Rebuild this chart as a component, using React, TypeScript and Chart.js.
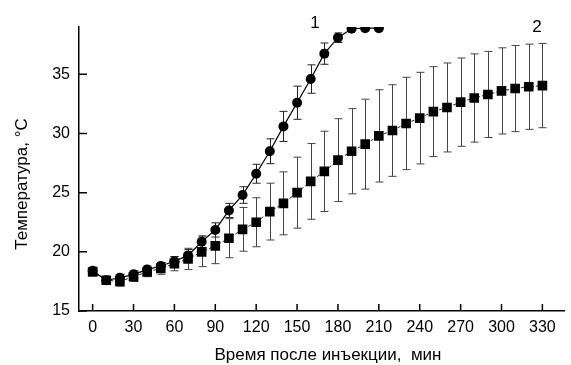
import React, { useEffect, useRef } from "react";
import { Chart, registerables } from "chart.js";

Chart.register(...registerables);

// Series 1 (circles)
const times1 = [0, 10, 20, 30, 40, 50, 60, 70, 80, 90, 100, 110, 120, 130, 140, 150, 160, 170, 180, 190, 200, 210];
const temps1 = [18.4, 17.6, 17.8, 18.1, 18.5, 18.8, 19.2, 19.7, 20.85, 21.85, 23.5, 24.8, 26.6, 28.5, 30.6, 32.6, 34.6, 36.75, 38.1, 38.85, 38.9, 38.9];
const errs1 = [0.3, 0.2, 0.3, 0.3, 0.3, 0.3, 0.4, 0.5, 0.5, 0.6, 0.6, 0.7, 0.8, 1.05, 1.27, 1.4, 1.2, 0.9, 0.4, 0, 0, 0];

// Series 2 (squares)
const times2 = [0, 10, 20, 30, 40, 50, 60, 70, 80, 90, 100, 110, 120, 130, 140, 150, 160, 170, 180, 190, 200, 210, 220, 230, 240, 250, 260, 270, 280, 290, 300, 310, 320, 330];
const temps2 = [18.3, 17.6, 17.5, 17.9, 18.3, 18.6, 19.0, 19.4, 20.0, 20.5, 21.15, 21.9, 22.5, 23.4, 24.1, 25.0, 25.95, 26.8, 27.75, 28.5, 29.1, 29.8, 30.25, 30.85, 31.3, 31.85, 32.2, 32.65, 33.0, 33.3, 33.6, 33.8, 33.95, 34.05];
const errs2 = [0.3, 0.2, 0.4, 0.4, 0.4, 0.5, 0.6, 0.9, 1.25, 1.5, 1.65, 1.85, 2.07, 2.4, 2.66, 3.0, 3.2, 3.39, 3.5, 3.6, 3.8, 3.9, 3.87, 3.9, 3.87, 3.8, 3.76, 3.73, 3.73, 3.64, 3.64, 3.64, 3.6, 3.56];

const xTicks = [0, 30, 60, 90, 120, 150, 180, 210, 240, 270, 300, 330];
const yTicks = [15, 20, 25, 30, 35];

const xTitle = "Время после инъекции,  мин";
const yTitle = "Температура, °C";
const seriesLabels = ["1", "2"];

const FONT = "'Liberation Sans', Arial, sans-serif";

const customPlugin = {
  id: "custom",
  beforeDatasetsDraw(chart: any) {
    const { ctx, chartArea, scales } = chart;
    const xs = scales.x;
    const ys = scales.y;
    ctx.save();
    ctx.beginPath();
    ctx.rect(chartArea.left, chartArea.top - 1, chartArea.right - chartArea.left, chartArea.bottom - chartArea.top + 1);
    ctx.clip();
    const drawBars = (times: number[], vals: number[], errs: number[], color: string) => {
      ctx.strokeStyle = color;
      ctx.lineWidth = 1;
      for (let i = 0; i < times.length; i++) {
        if (!errs[i]) continue;
        const px = Math.round(xs.getPixelForValue(times[i])) + 0.5;
        const top = ys.getPixelForValue(vals[i] + errs[i]);
        const bot = ys.getPixelForValue(vals[i] - errs[i]);
        ctx.beginPath();
        ctx.moveTo(px, top);
        ctx.lineTo(px, bot);
        ctx.moveTo(px - 4, top);
        ctx.lineTo(px + 4, top);
        ctx.moveTo(px - 4, bot);
        ctx.lineTo(px + 4, bot);
        ctx.stroke();
      }
    };
    drawBars(times2, temps2, errs2, "#444");
    drawBars(times1, temps1, errs1, "#222");
    ctx.restore();
  },
  afterDraw(chart: any) {
    const { ctx, chartArea, scales } = chart;
    const xs = scales.x;
    const ys = scales.y;
    ctx.save();
    ctx.strokeStyle = "#000";
    ctx.lineWidth = 1.5;
    ctx.beginPath();
    xTicks.forEach((t) => {
      const px = xs.getPixelForValue(t);
      ctx.moveTo(px, chartArea.bottom);
      ctx.lineTo(px, chartArea.bottom - 7);
    });
    yTicks.forEach((t) => {
      const py = ys.getPixelForValue(t);
      ctx.moveTo(chartArea.left, py);
      ctx.lineTo(chartArea.left + 8, py);
    });
    ctx.stroke();

    ctx.fillStyle = "#000";
    ctx.font = `17px ${FONT}`;
    ctx.textAlign = "center";
    ctx.textBaseline = "middle";
    ctx.fillText(xTitle, 328, 355);

    ctx.save();
    ctx.translate(22, 184);
    ctx.rotate(-Math.PI / 2);
    ctx.fillText(yTitle, 0, 0);
    ctx.restore();

    ctx.font = `17px ${FONT}`;
    ctx.fillText(seriesLabels[0], 315, 23);
    ctx.fillText(seriesLabels[1], 537, 27);
    ctx.restore();
  },
};

export default function App() {
  const canvasRef = useRef<HTMLCanvasElement | null>(null);

  useEffect(() => {
    if (!canvasRef.current) return;
    const chart = new Chart(canvasRef.current, {
      type: "line",
      data: {
        datasets: [
          {
            label: "2",
            data: times2.map((t, i) => ({ x: t, y: temps2[i] })),
            borderColor: "#222",
            borderWidth: 1,
            borderDash: [3, 2],
            pointStyle: "rect",
            pointRadius: 6.8,
            pointBackgroundColor: "#000",
            pointBorderColor: "#000",
            pointBorderWidth: 0,
            tension: 0,
            clip: 0,
          },
          {
            label: "1",
            data: times1.map((t, i) => ({ x: t, y: temps1[i] })),
            borderColor: "#000",
            borderWidth: 1.2,
            pointStyle: "circle",
            pointRadius: 5,
            pointBackgroundColor: "#000",
            pointBorderColor: "#000",
            pointBorderWidth: 0,
            tension: 0,
            clip: 0,
          },
        ],
      },
      options: {
        responsive: false,
        animation: false,
        layout: { padding: { top: 27, right: 3, left: 0, bottom: 0 } },
        plugins: { legend: { display: false }, tooltip: { enabled: false } },
        scales: {
          x: {
            type: "linear",
            min: -10,
            max: 346,
            afterBuildTicks: (scale: any) => {
              scale.ticks = xTicks.map((v) => ({ value: v }));
            },
            afterFit: (scale: any) => {
              scale.height = 54;
            },
            grid: { display: false, drawTicks: false },
            border: { display: true, color: "#000", width: 1.5 },
            ticks: {
              color: "#000",
              font: { size: 16, family: FONT },
              padding: 7,
              maxRotation: 0,
              autoSkip: false,
            },
          },
          y: {
            type: "linear",
            min: 15,
            max: 39,
            afterBuildTicks: (scale: any) => {
              scale.ticks = yTicks.map((v) => ({ value: v }));
            },
            afterFit: (scale: any) => {
              scale.width = 79;
            },
            grid: { display: false, drawTicks: false },
            border: { display: true, color: "#000", width: 1.5 },
            ticks: {
              color: "#000",
              font: { size: 16, family: FONT },
              padding: 9,
              autoSkip: false,
            },
          },
        },
      },
      plugins: [customPlugin],
    } as any);
    return () => chart.destroy();
  }, []);

  return (
    <div style={{ position: "fixed", left: 0, top: 0, width: 571, height: 365, background: "#fff" }}>
      <canvas ref={canvasRef} width={571} height={365} />
    </div>
  );
}
